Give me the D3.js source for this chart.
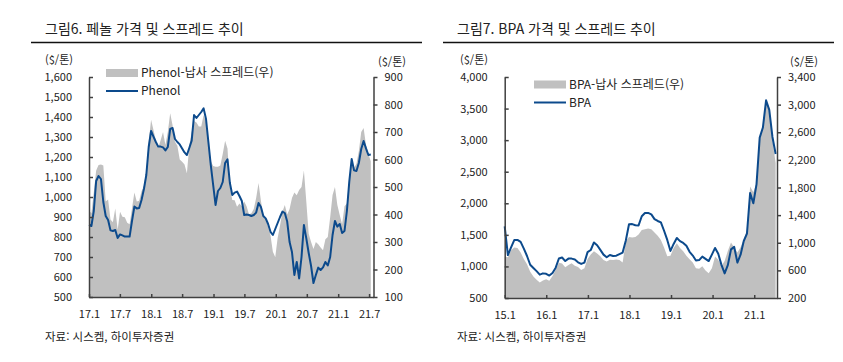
<!DOCTYPE html>
<html lang="ko">
<head>
<meta charset="UTF-8">
<script src="https://d3js.org/d3.v7.min.js"></script>
<title>페놀 / BPA 스프레드</title>
<style>
  body { margin: 0; background: #fff; }
  svg text { font-family: "Noto Sans CJK KR", "Noto Sans", sans-serif; fill: #222; }
  .axis path, .axis line { stroke: #404040; stroke-width: 1.5; }
  .axis text { font-size: 11px; fill: #222; }
</style>
</head>
<body>
<svg id="chart" width="843" height="362"></svg>
<script>
// ---- 그림6: 페놀 (14일 간격, 2017-01-01부터)
const phenolStart = "2017-01-01";
const phenolStepDays = 14;
const phenolPrice = [
  860, 855, 930, 1080, 1105, 1090, 975, 905, 885, 833,
  830, 835, 795, 813, 808, 802, 802, 802, 880, 952,
  943, 945, 985, 1040, 1110, 1250, 1330, 1302, 1275, 1252,
  1252, 1248, 1233, 1250, 1340, 1345, 1290, 1275, 1263, 1243,
  1223, 1210, 1245, 1282, 1410, 1395, 1410, 1425, 1443, 1390,
  1275, 1160, 1060, 960, 1030, 1045, 1075, 1170, 1188, 1070,
  1010, 1022, 1027, 1005, 980, 910, 912, 910, 905, 910,
  922, 970, 950, 905, 893, 865, 826, 810, 840, 870,
  900, 927, 920, 877, 775, 725, 610, 675, 593, 700,
  860, 793, 720, 655, 570, 610, 647, 635, 648, 675,
  658, 700, 810, 880, 852, 865, 820, 830, 930, 1077,
  1190, 1133, 1130, 1170, 1240, 1280, 1243, 1210, 1212
];
const phenolSpread = [
  415, 405, 480, 560, 580, 582, 578, 447, 455, 382,
  372, 422, 345, 410, 392, 390, 370, 365, 422, 480,
  447, 450, 485, 505, 560, 665, 745, 707, 670, 643,
  670, 700, 653, 700, 768, 725, 665, 650, 600, 592,
  582, 550, 650, 700, 740, 735, 720, 720, 762, 735,
  665, 595, 576, 574, 574, 578, 620, 668, 640, 500,
  453, 452, 428, 440, 430, 447, 430, 400, 405, 420,
  460, 515, 450, 395, 386, 355, 325, 265, 245, 315,
  360, 410, 435, 400, 420, 460, 480, 470, 489, 500,
  560, 447, 330, 300, 275, 300, 292, 280, 270, 310,
  318, 390, 471, 500, 435, 398, 365, 430, 440, 531,
  600, 570, 585, 630, 700, 715, 653, 620, 594
];
const phenolXTicks = ["17.1", "17.7", "18.1", "18.7", "19.1", "19.7", "20.1", "20.7", "21.1", "21.7"];
const phenolLeftTicks = [500, 600, 700, 800, 900, 1000, 1100, 1200, 1300, 1400, 1500, 1600];
const phenolRightTicks = [100, 200, 300, 400, 500, 600, 700, 800, 900];

// ---- 그림7: BPA (28일 간격, 2015-01-01부터)
const bpaStart = "2015-01-01";
const bpaStepDays = 28;
const bpaPrice = [
  1636, 1180, 1300, 1418, 1420, 1388, 1283, 1165, 1027, 976,
  925, 870, 890, 884, 856, 897, 980, 1125, 1142, 1085,
  1124, 1124, 1110, 1065, 1040, 1060, 1226, 1260, 1380, 1335,
  1262, 1187, 1145, 1182, 1166, 1170, 1195, 1220, 1410, 1668,
  1670, 1652, 1650, 1794, 1845, 1847, 1825, 1750, 1720, 1697,
  1565, 1420, 1245, 1356, 1451, 1400, 1372, 1326, 1232, 1172,
  1095, 1100, 1155, 1120, 1085, 1187, 1293, 1200, 1025, 890,
  1020, 1270, 1310, 1060, 1186, 1403, 1520, 2164, 2000, 2300,
  3040, 3200, 3630, 3480, 3050, 2780
];
const bpaSpread = [
  800, 790, 890, 930, 925, 860, 765, 690, 580, 510,
  463, 425, 455, 470, 450, 520, 610, 710, 700, 645,
  679, 703, 667, 648, 604, 630, 765, 830, 876, 844,
  805, 751, 727, 753, 751, 758, 751, 715, 1020, 1085,
  1075, 1085, 1120, 1186, 1196, 1208, 1195, 1150, 1100, 1040,
  930, 805, 810, 925, 993, 925, 877, 810, 760, 714,
  630, 622, 660, 600, 560, 630, 800, 755, 665, 735,
  880, 1005, 930, 860, 935, 1045, 1190, 1814, 1730, 1870,
  2500, 2680, 3010, 2960, 2480, 2153
];
const bpaXTicks = ["15.1", "16.1", "17.1", "18.1", "19.1", "20.1", "21.1"];
const bpaLeftTicks = [500, 1000, 1500, 2000, 2500, 3000, 3500, 4000];
const bpaRightTicks = [200, 600, 1000, 1400, 1800, 2200, 2600, 3000, 3400];

const svg = d3.select("#chart");
const parseDate = d3.timeParse("%Y-%m-%d");
const tickDate = s => { const p = s.split("."); return new Date(2000 + +p[0], +p[1] - 1, 1); };
const fmt = d3.format(",");

function drawPanel(cfg) {
  const g = svg.append("g");
  const start = parseDate(cfg.start);
  const rows = cfg.price.map((v, i) => ({
    date: d3.timeDay.offset(start, i * cfg.step), price: v, spread: cfg.spread[i]
  }));

  const x = d3.scaleTime().domain(cfg.xDomain).range([cfg.left, cfg.right]);
  const yL = d3.scaleLinear().domain(d3.extent(cfg.leftTicks)).range([cfg.bottom, cfg.top]);
  const yR = d3.scaleLinear().domain(d3.extent(cfg.rightTicks)).range([cfg.bottom, cfg.top]);

  // title + rule
  g.append("text").attr("x", cfg.titleX).attr("y", 34)
    .style("font-size", "14px").text(cfg.title);
  g.append("line").attr("x1", cfg.ruleX[0]).attr("x2", cfg.ruleX[1])
    .attr("y1", 42.5).attr("y2", 42.5).attr("stroke", "#111").attr("stroke-width", 1.5);

  // units
  g.append("text").attr("x", cfg.unitL).attr("y", 64).style("font-size", "11px").text("($/톤)");
  g.append("text").attr("x", cfg.unitR).attr("y", 66).attr("text-anchor", "end")
    .style("font-size", "11px").text("($/톤)");

  // spread (gray, right axis)
  g.append("path").datum(rows)
    .attr("fill", "#c0c0c0")
    .attr("d", d3.area().x(d => x(d.date)).y0(cfg.bottom).y1(d => yR(d.spread)));

  // price line (left axis)
  g.append("path").datum(rows)
    .attr("fill", "none").attr("stroke", "#0c4a8c").attr("stroke-width", 2)
    .attr("stroke-linejoin", "round")
    .attr("d", d3.line().x(d => x(d.date)).y(d => yL(d.price)));

  // axes
  g.append("g").attr("class", "axis")
    .attr("transform", `translate(${cfg.left},0)`)
    .call(d3.axisLeft(yL).tickValues(cfg.leftTicks).tickFormat(fmt)
      .tickSizeInner(-4).tickSizeOuter(0).tickPadding(17));
  g.append("g").attr("class", "axis")
    .attr("transform", `translate(${cfg.right},0)`)
    .call(d3.axisRight(yR).tickValues(cfg.rightTicks).tickFormat(fmt)
      .tickSizeInner(4).tickSizeOuter(0).tickPadding(7))
    .selectAll("text").attr("text-anchor", "start");
  const bx = g.append("g").attr("class", "axis")
    .attr("transform", `translate(0,${cfg.bottom})`)
    .call(d3.axisBottom(x).tickValues(cfg.xTicks.map(tickDate))
      .tickFormat((d, i) => cfg.xTicks[i]).tickSizeInner(-3).tickSizeOuter(0).tickPadding(13));
  bx.selectAll("text").attr("fill", "#222");

  // legend
  const lg = g.append("g").style("font-size", "12px");
  lg.append("rect").attr("x", cfg.legX).attr("y", cfg.legY - 4)
    .attr("width", 32).attr("height", 8).attr("fill", "#c0c0c0");
  lg.append("text").attr("x", cfg.legX + 35).attr("y", cfg.legY).attr("dy", "0.35em").text(cfg.spreadName);
  lg.append("line").attr("x1", cfg.legX).attr("x2", cfg.legX + 32)
    .attr("y1", cfg.legY + 18).attr("y2", cfg.legY + 18)
    .attr("stroke", "#0c4a8c").attr("stroke-width", 2);
  lg.append("text").attr("x", cfg.legX + 35).attr("y", cfg.legY + 18).attr("dy", "0.35em").text(cfg.priceName);

  // source
  g.append("text").attr("x", cfg.titleX).attr("y", 341)
    .style("font-size", "11.5px").text("자료: 시스켐, 하이투자증권");
}

drawPanel({
  title: "그림6. 페놀 가격 및 스프레드 추이", titleX: 45, ruleX: [31, 422],
  unitL: 45, unitR: 406,
  start: phenolStart, step: phenolStepDays, price: phenolPrice, spread: phenolSpread,
  xTicks: phenolXTicks, leftTicks: phenolLeftTicks, rightTicks: phenolRightTicks,
  xDomain: [new Date(2017, 0, 1), new Date(2021, 6, 27)],
  left: 89, right: 373.5, top: 77, bottom: 297,
  legX: 106, legY: 73, spreadName: "Phenol-납사 스프레드(우)", priceName: "Phenol"
});

drawPanel({
  title: "그림7. BPA 가격 및 스프레드 추이", titleX: 457, ruleX: [443, 834],
  unitL: 460, unitR: 818,
  start: bpaStart, step: bpaStepDays, price: bpaPrice, spread: bpaSpread,
  xTicks: bpaXTicks, leftTicks: bpaLeftTicks, rightTicks: bpaRightTicks,
  xDomain: [new Date(2015, 0, 1), new Date(2021, 6, 20)],
  left: 504.7, right: 777, top: 77, bottom: 298,
  legX: 534, legY: 84.5, spreadName: "BPA-납사 스프레드(우)", priceName: "BPA"
});
</script>
</body>
</html>
